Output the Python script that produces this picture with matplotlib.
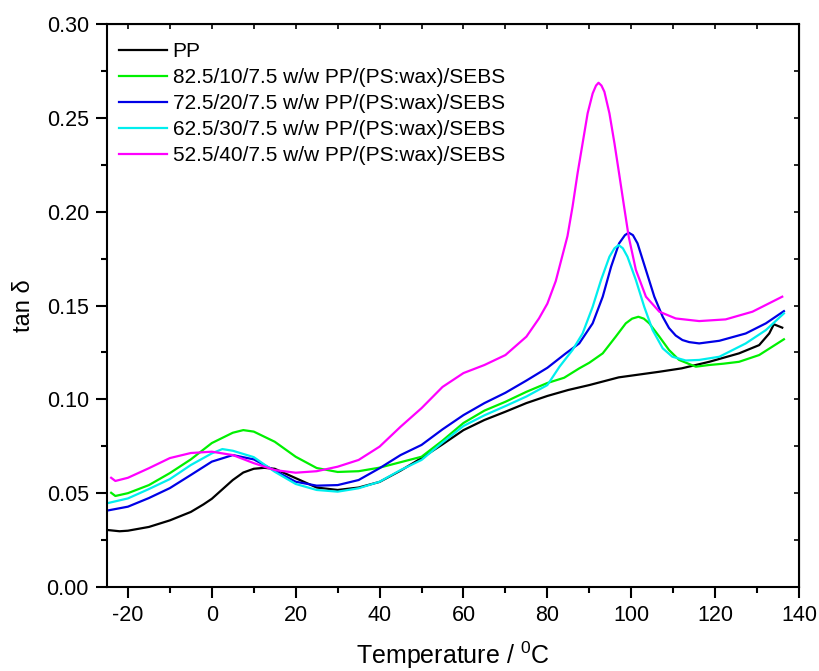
import matplotlib
matplotlib.use("Agg")
import matplotlib.pyplot as plt
from matplotlib.ticker import MultipleLocator

plt.rcParams['font.family'] = ['Liberation Sans', 'DejaVu Sans']
plt.rcParams['mathtext.fontset'] = 'custom'
plt.rcParams['mathtext.rm'] = 'Liberation Sans'
plt.rcParams['mathtext.it'] = 'Liberation Sans'
plt.rcParams['axes.unicode_minus'] = False

# tan delta vs temperature
pp_t = [-25, -22, -20, -15, -10, -5, -2, 0, 2.5, 5, 7.5, 10, 12.5, 15, 17.5, 20, 25, 30,
        35, 40, 45, 50, 55, 60, 65, 70, 75, 80, 85, 90, 97, 106.7, 112, 118.6, 125.7,
        130.5, 132.9, 134, 136]
pp_tan = [0.0304, 0.0297, 0.030, 0.032, 0.0355, 0.040, 0.044, 0.047, 0.052, 0.057, 0.061,
          0.063, 0.0635, 0.063, 0.0605, 0.058, 0.053, 0.0517, 0.053, 0.056, 0.062, 0.0687,
          0.076, 0.0836, 0.089, 0.0934, 0.098, 0.1018, 0.105, 0.1076, 0.1117, 0.1147,
          0.1165, 0.120, 0.1245, 0.1289, 0.1351, 0.140, 0.1382]

g10_t = [-24, -23, -20, -15, -10, -5, 0, 5, 7.5, 10, 15, 20, 25, 30, 35, 40, 45, 50, 55,
         60, 65, 70, 75, 80, 84, 87.6, 90, 93.2, 96.3, 98.7, 100.2, 101.7, 103, 104.3,
         106.7, 109, 111.4, 115.4, 118.6, 122, 125.7, 130.5, 136.4]
g10_tan = [0.0502, 0.0485, 0.050, 0.0543, 0.0607, 0.068, 0.0767, 0.0822, 0.0836, 0.0828,
           0.0774, 0.0694, 0.0634, 0.0613, 0.0617, 0.0636, 0.0665, 0.0694, 0.078, 0.0874,
           0.094, 0.0987, 0.104, 0.1087, 0.1115, 0.1165, 0.1195, 0.1245, 0.1334, 0.1405,
           0.143, 0.144, 0.143, 0.1405, 0.1334, 0.1263, 0.121, 0.1174, 0.1183, 0.119,
           0.120, 0.1236, 0.132]

b20_t = [-25, -20, -15, -10, -5, 0, 5, 10, 15, 20, 25, 30, 35, 40, 45, 50, 55, 60, 65,
         70, 75, 80, 84.4, 87.6, 90.8, 93.2, 95.2, 97.1, 98.5, 99.4, 100.4, 101.5, 103.5,
         105.5, 107.5, 109, 110.6, 112.2, 113.8, 116.2, 121, 127.3, 132.1, 136.4]
b20_tan = [0.0407, 0.0428, 0.0474, 0.0527, 0.0597, 0.0668, 0.0703, 0.068, 0.062, 0.0561,
           0.054, 0.0543, 0.057, 0.0633, 0.0703, 0.0757, 0.084, 0.0916, 0.098, 0.1035,
           0.110, 0.1168, 0.1245, 0.1298, 0.1405, 0.1547, 0.1707, 0.1831, 0.1875, 0.1888,
           0.1875, 0.1831, 0.1689, 0.1547, 0.144, 0.138, 0.134, 0.1316, 0.1305, 0.1298,
           0.1312, 0.1351, 0.1405, 0.147]

c30_t = [-25, -20, -15, -10, -5, 0, 2.5, 5, 10, 15, 20, 25, 30, 35, 40, 45, 50, 55, 60,
         65, 70, 75, 80, 82.9, 86, 88.4, 90.8, 92.8, 94.8, 96, 97, 98, 99.1, 101.1, 103.1,
         105.1, 107.5, 109.8, 113, 116.2, 121, 127.3, 132.1, 136.4]
c30_tan = [0.0446, 0.0472, 0.0522, 0.0575, 0.065, 0.0712, 0.0735, 0.0726, 0.0692, 0.0614,
           0.0549, 0.0517, 0.0508, 0.0526, 0.0561, 0.0623, 0.0677, 0.077, 0.0858, 0.0915,
           0.0964, 0.1015, 0.1076, 0.1174, 0.1263, 0.1351, 0.1493, 0.1636, 0.176, 0.1805,
           0.1822, 0.1805, 0.176, 0.1636, 0.1493, 0.1369, 0.1272, 0.1227, 0.1207, 0.121,
           0.1227, 0.1298, 0.1369, 0.1458]

m40_t = [-24, -23, -20, -15, -10, -5, 0, 5, 10, 15, 20, 25, 30, 35, 40, 45, 50, 55, 60,
         65, 70, 75, 78, 80, 82, 84.8, 86, 87.2, 88.4, 89.6, 90.8, 91.6, 92.2, 92.9, 93.6,
         94.8, 96, 97.1, 98.3, 99.4, 101.1, 103.5, 106.7, 110.6, 116.2, 122.5, 128.9, 136]
m40_tan = [0.0582, 0.0565, 0.0582, 0.0633, 0.0687, 0.0714, 0.0721, 0.0703, 0.066, 0.0623,
           0.0609, 0.0617, 0.0641, 0.0677, 0.0748, 0.0854, 0.0953, 0.1066, 0.114, 0.1183,
           0.1236, 0.1334, 0.1431, 0.151, 0.163, 0.187, 0.2026, 0.2204, 0.2364, 0.2524,
           0.263, 0.2672, 0.2687, 0.2672, 0.2639, 0.2524, 0.2364, 0.2204, 0.2026, 0.1866,
           0.169, 0.1547, 0.1467, 0.1431, 0.1417, 0.1426, 0.1467, 0.1547]

labels = ["PP",
          "82.5/10/7.5 w/w PP/(PS:wax)/SEBS",
          "72.5/20/7.5 w/w PP/(PS:wax)/SEBS",
          "62.5/30/7.5 w/w PP/(PS:wax)/SEBS",
          "52.5/40/7.5 w/w PP/(PS:wax)/SEBS"]
colors = ["#000000", "#00f000", "#0000e6", "#00eeee", "#ff00ff"]

fig = plt.figure(figsize=(8.19, 6.71), dpi=100)
ax = fig.add_axes([0.1306, 0.1252, 0.845, 0.839])

series = [(pp_t, pp_tan), (g10_t, g10_tan), (b20_t, b20_tan), (c30_t, c30_tan), (m40_t, m40_tan)]
for (t, v), lab, col in zip(series, labels, colors):
    ax.plot(t, v, color=col, lw=1.6, label=lab)

ax.set_xlim(-25, 140)
ax.set_ylim(0, 0.30)
ax.xaxis.set_major_locator(MultipleLocator(20))
ax.xaxis.set_minor_locator(MultipleLocator(10))
ax.yaxis.set_major_locator(MultipleLocator(0.05))
ax.yaxis.set_minor_locator(MultipleLocator(0.025))
ax.yaxis.set_major_formatter(plt.FormatStrFormatter('%.2f'))
ax.tick_params(which='major', direction='out', length=8, width=1.5, labelsize=15.5, pad=5)
ax.tick_params(which='minor', direction='out', length=4.5, width=1.5)
for s in ax.spines.values():
    s.set_linewidth(1.5)

# inward ticks on the top and right edges
top = ax.secondary_xaxis('top')
top.xaxis.set_major_locator(MultipleLocator(10))
top.tick_params(direction='in', length=3.5, width=1.2, labeltop=False)
right = ax.secondary_yaxis('right')
right.yaxis.set_major_locator(MultipleLocator(0.025))
right.tick_params(direction='in', length=3.5, width=1.2, labelright=False)

ax.set_xlabel("Temperature / $^{\\mathrm{0}}$C", fontsize=18, labelpad=10)
ax.set_ylabel("tan δ", fontsize=17, labelpad=8)

ax.legend(loc='upper left', frameon=False, fontsize=15, handlelength=2.3,
          handletextpad=0.25, labelspacing=0.34, borderaxespad=0.2,
          bbox_to_anchor=(0.0, 0.99))

fig.savefig("out.png", dpi=100)
